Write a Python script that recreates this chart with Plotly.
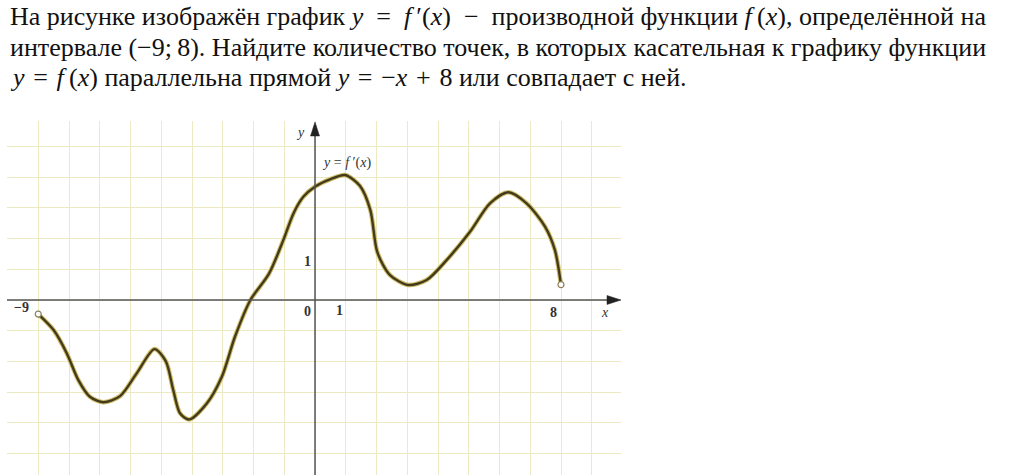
import plotly.graph_objects as go

# ---- data (units of the grid) ----
x_vals = [-9, -8.5, -8.07, -7.7, -7.32, -6.88, -6.34, -5.8, -5.22, -4.85, -4.61, -4.39,
          -4.09, -3.52, -3.03, -2.6, -2.1, -1.5, -1.03, -0.7, -0.38, 0, 0.49, 0.98,
          1.46, 1.8, 2.03, 2.44, 3.03, 3.63, 4.28, 5.04, 5.69, 6.29, 6.88, 7.48, 7.8, 8]
y_vals = [-0.46, -0.98, -1.74, -2.6, -3.15, -3.33, -3.13, -2.39, -1.6, -2.0, -2.93, -3.69,
          -3.89, -3.37, -2.5, -1.19, 0, 0.85, 1.95, 2.82, 3.36, 3.69, 3.93, 4.07,
          3.72, 2.93, 1.55, 0.81, 0.49, 0.65, 1.3, 2.22, 3.15, 3.51, 3.15, 2.39, 1.63, 0.5]
endpoint_x = [-9, 8]
endpoint_y = [-0.46, 0.5]

tick_labels = [("−9", -9.53, -0.23), ("0", -0.23, -0.36), ("1", 0.81, -0.33), ("8", 7.77, -0.42)]
y_tick_label = ("1", -0.26, 1.27)

SP = "\u2002"   # en space around math operators
S3 = "\u2004"   # three-per-em space
TH = "\u2009"   # thin space
question_lines = [
    f"На рисунке изображён график <i>y</i>{SP}={SP}<i>f</i>{TH}′(<i>x</i>){SP}−{SP}производной функции <i>f</i>{TH}(<i>x</i>), определённой на",
    "интервале (−9;\u20098). Найдите количество точек, в которых касательная к графику функции",
    f"<i>y</i>{S3}={S3}<i>f</i>{TH}(<i>x</i>) параллельна прямой <i>y</i>{S3}={S3}−<i>x</i>{S3}+{S3}8 или совпадает с ней.",
]

SERIF = "Liberation Serif, Times New Roman, DejaVu Serif, serif"

# ---- layout geometry (pixels) ----
W, H = 1018, 475
PX0, PY0 = 315, 300          # pixel position of the origin
SX, SY = 30.75, 30.7         # pixels per unit
LEFT, RIGHT, TOP, BOTTOM = 7, 621, 121, 475

xr = [(LEFT - PX0) / SX, (RIGHT - PX0) / SX]
yr = [(PY0 - BOTTOM) / SY, (PY0 - TOP) / SY]

fig = go.Figure()

fig.add_trace(go.Scatter(x=x_vals, y=y_vals, mode="lines",
                         line=dict(color="#cfbe6a", width=4.5, shape="spline", smoothing=0.8),
                         hoverinfo="skip", showlegend=False))
fig.add_trace(go.Scatter(x=x_vals, y=y_vals, mode="lines",
                         line=dict(color="#433b1c", width=2.4, shape="spline", smoothing=0.8),
                         hoverinfo="skip", showlegend=False))
fig.add_trace(go.Scatter(x=endpoint_x, y=endpoint_y, mode="markers",
                         marker=dict(size=6, color="white", line=dict(color="#8a8060", width=1.2)),
                         hoverinfo="skip", showlegend=False))

grid = "#ebeac2"
fig.update_xaxes(domain=[LEFT / W, RIGHT / W], range=xr, tick0=0, dtick=1,
                 showgrid=True, gridcolor=grid, gridwidth=1, zeroline=False,
                 showticklabels=False, ticks="", showline=False, fixedrange=True)
fig.update_yaxes(domain=[0, 1 - TOP / H], range=yr, tick0=0, dtick=1,
                 showgrid=True, gridcolor=grid, gridwidth=1, zeroline=False,
                 showticklabels=False, ticks="", showline=False, fixedrange=True)

axis_col = "#555555"
fig.add_shape(type="line", x0=xr[0], y0=0, x1=xr[1] - 10 / SX, y1=0,
              line=dict(color=axis_col, width=1.5), layer="above")
fig.add_shape(type="line", x0=0, y0=yr[0], x1=0, y1=yr[1] - 10 / SY,
              line=dict(color=axis_col, width=1.5), layer="above")
tipx = xr[1]
fig.add_shape(type="path",
              path=f"M {tipx} 0 L {tipx - 14 / SX} {4.5 / SY} L {tipx - 14 / SX} {-4.5 / SY} Z",
              fillcolor="#222222", line=dict(color="#222222", width=0.5), layer="above")
tipy = yr[1] - 1 / SY
fig.add_shape(type="path",
              path=f"M 0 {tipy} L {4.5 / SX} {tipy - 14 / SY} L {-4.5 / SX} {tipy - 14 / SY} Z",
              fillcolor="#222222", line=dict(color="#222222", width=0.5), layer="above")

lab_font = dict(family=SERIF, size=14, color="#333333")
for txt, lx, ly in tick_labels:
    fig.add_annotation(x=lx, y=ly, text=f"<b>{txt}</b>", showarrow=False, font=lab_font)
fig.add_annotation(x=y_tick_label[1], y=y_tick_label[2], text=f"<b>{y_tick_label[0]}</b>",
                   showarrow=False, font=lab_font)
fig.add_annotation(x=-0.46, y=5.45, text="<i>y</i>", showarrow=False, font=lab_font)
fig.add_annotation(x=9.43, y=-0.42, text="<i>x</i>", showarrow=False, font=lab_font)
fig.add_annotation(x=1.04, y=4.46, text="<i>y</i> = <i>f</i> ′(<i>x</i>)", showarrow=False,
                   font=lab_font)

for i, line in enumerate(question_lines):
    fig.add_annotation(xref="paper", yref="paper", x=8 / W, y=1 - (17 + 30.2 * i) / H,
                       xanchor="left", yanchor="middle", text=line, showarrow=False,
                       font=dict(family=SERIF, size=26, color="#111111"))

fig.update_layout(width=W, height=H, margin=dict(l=0, r=0, t=0, b=0),
                  paper_bgcolor="white", plot_bgcolor="white", showlegend=False)

fig.write_html("out.html", config={"displayModeBar": False},
               post_script="document.body.style.margin='0';document.body.style.overflow='hidden';")
